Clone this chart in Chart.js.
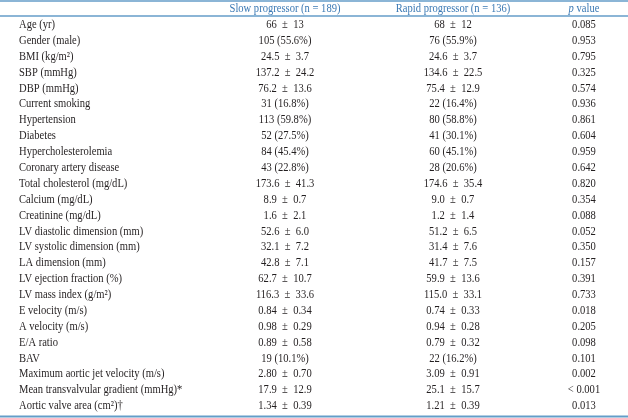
<!DOCTYPE html>
<html lang="en">
<head>
    <meta charset="UTF-8">
    <title>Slow vs rapid progressor</title>
    <script src="https://cdn.jsdelivr.net/npm/chart.js"></script>
    <style>
        html, body {
            margin: 0;
            padding: 0;
            background: #ffffff;
        }

        .chart-container {
            position: relative;
            width: 628px;
            height: 418px;
        }
    </style>
</head>
<body>
    <div class="chart-container">
        <canvas id="table-chart"></canvas>
    </div>

    <script>
        const rowLabels = [
            "Age (yr)", "Gender (male)", "BMI (kg/m²)", "SBP (mmHg)", "DBP (mmHg)",
            "Current smoking", "Hypertension", "Diabetes", "Hypercholesterolemia",
            "Coronary artery disease", "Total cholesterol (mg/dL)", "Calcium (mg/dL)",
            "Creatinine (mg/dL)", "LV diastolic dimension (mm)", "LV systolic dimension (mm)",
            "LA dimension (mm)", "LV ejection fraction (%)", "LV mass index (g/m²)",
            "E velocity (m/s)", "A velocity (m/s)", "E/A ratio", "BAV",
            "Maximum aortic jet velocity (m/s)", "Mean transvalvular gradient (mmHg)*",
            "Aortic valve area (cm²)†"
        ];
        const slowValues = [
            "66 ± 13", "105 (55.6%)", "24.5 ± 3.7", "137.2 ± 24.2", "76.2 ± 13.6",
            "31 (16.8%)", "113 (59.8%)", "52 (27.5%)", "84 (45.4%)", "43 (22.8%)",
            "173.6 ± 41.3", "8.9 ± 0.7", "1.6 ± 2.1", "52.6 ± 6.0", "32.1 ± 7.2",
            "42.8 ± 7.1", "62.7 ± 10.7", "116.3 ± 33.6", "0.84 ± 0.34", "0.98 ± 0.29",
            "0.89 ± 0.58", "19 (10.1%)", "2.80 ± 0.70", "17.9 ± 12.9", "1.34 ± 0.39"
        ];
        const rapidValues = [
            "68 ± 12", "76 (55.9%)", "24.6 ± 3.7", "134.6 ± 22.5", "75.4 ± 12.9",
            "22 (16.4%)", "80 (58.8%)", "41 (30.1%)", "60 (45.1%)", "28 (20.6%)",
            "174.6 ± 35.4", "9.0 ± 0.7", "1.2 ± 1.4", "51.2 ± 6.5", "31.4 ± 7.6",
            "41.7 ± 7.5", "59.9 ± 13.6", "115.0 ± 33.1", "0.74 ± 0.33", "0.94 ± 0.28",
            "0.79 ± 0.32", "22 (16.2%)", "3.09 ± 0.91", "25.1 ± 15.7", "1.21 ± 0.39"
        ];
        const pValues = [
            "0.085", "0.953", "0.795", "0.325", "0.574", "0.936", "0.861", "0.604",
            "0.959", "0.642", "0.820", "0.354", "0.088", "0.052", "0.350", "0.157",
            "0.391", "0.733", "0.018", "0.205", "0.098", "0.101", "0.002", "< 0.001",
            "0.013"
        ];
        const columnHeaders = ["Slow progressor (n = 189)", "Rapid progressor (n = 136)", "p value"];

        // column layout on the x scale (0..628)
        const labelX = 19;
        const columnX = [285, 453, 584];

        const textColor = "#231f20";
        const headerColor = "#3b79b4";
        const ruleColor = "#649dc8";
        const font = "12px 'Liberation Serif', 'Times New Roman', serif";
        const squeeze = 0.88; // narrower glyphs, like the original serif

        function spaced(s) {
            return s.replace(" ± ", "  ±  ");
        }

        function drawText(ctx, text, x, y, align, style) {
            ctx.save();
            ctx.font = (style ? style + " " : "") + font;
            ctx.textAlign = align;
            ctx.textBaseline = "middle";
            ctx.translate(x, y);
            ctx.scale(squeeze, 1);
            ctx.fillText(text, 0, 0);
            ctx.restore();
        }

        function textWidth(ctx, text, style) {
            ctx.save();
            ctx.font = (style ? style + " " : "") + font;
            const w = ctx.measureText(text).width * squeeze;
            ctx.restore();
            return w;
        }

        const tablePlugin = {
            id: "tableText",
            afterDraw(chart) {
                const { ctx, scales } = chart;
                const xs = scales.x;
                const ys = scales.y;
                const left = xs.getPixelForValue(0);
                const right = xs.getPixelForValue(628);
                ctx.save();

                // rules
                ctx.strokeStyle = ruleColor;
                ctx.lineWidth = 1.5;
                [1, 16].forEach((y) => {
                    ctx.beginPath();
                    ctx.moveTo(left, y);
                    ctx.lineTo(right, y);
                    ctx.stroke();
                });
                ctx.lineWidth = 2;
                ctx.beginPath();
                ctx.moveTo(left, 416.5);
                ctx.lineTo(right, 416.5);
                ctx.stroke();

                // header
                const hy = 8.5;
                ctx.fillStyle = headerColor;
                drawText(ctx, columnHeaders[0], xs.getPixelForValue(columnX[0]), hy, "center");
                drawText(ctx, columnHeaders[1], xs.getPixelForValue(columnX[1]), hy, "center");
                const pParts = columnHeaders[2].split(" ");
                const w1 = textWidth(ctx, pParts[0] + " ", "italic");
                const w2 = textWidth(ctx, pParts[1]);
                const px = xs.getPixelForValue(columnX[2]) - (w1 + w2) / 2;
                drawText(ctx, pParts[0] + " ", px, hy, "left", "italic");
                drawText(ctx, pParts[1], px + w1, hy, "left");

                // body
                ctx.fillStyle = textColor;
                rowLabels.forEach((label, i) => {
                    const y = ys.getPixelForValue(i);
                    drawText(ctx, label, xs.getPixelForValue(labelX), y, "left");
                    drawText(ctx, spaced(slowValues[i]), xs.getPixelForValue(columnX[0]), y, "center");
                    drawText(ctx, spaced(rapidValues[i]), xs.getPixelForValue(columnX[1]), y, "center");
                    drawText(ctx, pValues[i], xs.getPixelForValue(columnX[2]), y, "center");
                });
                ctx.restore();
            }
        };

        new Chart(document.getElementById("table-chart"), {
            type: "scatter",
            data: {
                labels: rowLabels,
                datasets: []
            },
            options: {
                responsive: true,
                maintainAspectRatio: false,
                animation: false,
                layout: {
                    padding: { top: 17, bottom: 4, left: 0, right: 0 }
                },
                plugins: {
                    legend: { display: false },
                    tooltip: { enabled: false }
                },
                scales: {
                    x: { type: "linear", min: 0, max: 628, display: false },
                    y: { type: "category", labels: rowLabels, offset: true, display: false }
                }
            },
            plugins: [tablePlugin]
        });
    </script>
</body>
</html>
